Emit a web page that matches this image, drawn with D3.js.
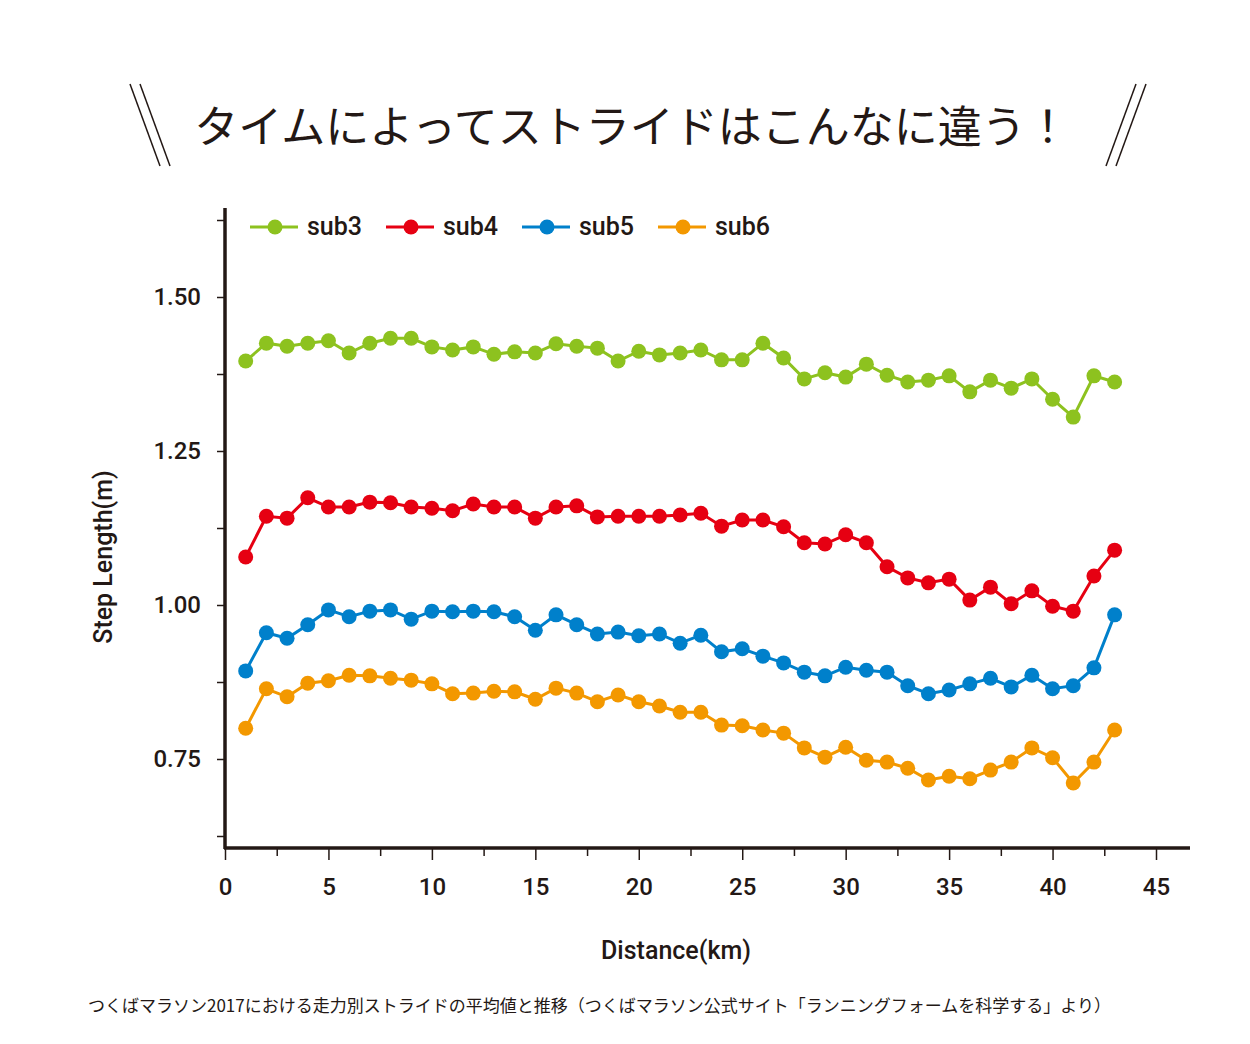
<!DOCTYPE html>
<html><head><meta charset="utf-8">
<script src="https://cdn.jsdelivr.net/npm/d3@7/dist/d3.min.js"></script>
<style>body{margin:0;background:#fff}</style></head>
<body><svg id="c" width="1250" height="1044"></svg>
<script>
const distances = d3.range(1, 44);
const sub3 = [1.396,1.425,1.420,1.425,1.429,1.409,1.425,1.433,1.433,1.419,1.414,1.419,1.407,1.411,1.409,1.424,1.420,1.417,1.396,1.412,1.406,1.409,1.414,1.398,1.398,1.425,1.401,1.367,1.377,1.370,1.391,1.373,1.362,1.365,1.372,1.346,1.365,1.352,1.367,1.334,1.305,1.372,1.362];
const sub4 = [1.078,1.144,1.141,1.174,1.159,1.159,1.167,1.166,1.159,1.157,1.153,1.164,1.159,1.159,1.141,1.159,1.161,1.143,1.144,1.144,1.144,1.146,1.149,1.128,1.138,1.138,1.127,1.101,1.099,1.114,1.101,1.062,1.044,1.036,1.042,1.008,1.029,1.002,1.023,0.998,0.990,1.047,1.089];
const sub5 = [0.893,0.955,0.946,0.968,0.992,0.981,0.990,0.992,0.977,0.990,0.989,0.990,0.989,0.981,0.959,0.984,0.968,0.953,0.956,0.950,0.953,0.938,0.951,0.924,0.929,0.917,0.906,0.891,0.885,0.899,0.894,0.891,0.869,0.856,0.862,0.872,0.881,0.867,0.886,0.864,0.869,0.898,0.984];
const sub6 = [0.800,0.864,0.851,0.873,0.877,0.886,0.885,0.881,0.878,0.872,0.856,0.857,0.860,0.859,0.847,0.865,0.857,0.843,0.854,0.843,0.836,0.826,0.826,0.805,0.804,0.797,0.792,0.768,0.753,0.769,0.748,0.745,0.735,0.716,0.722,0.718,0.732,0.745,0.768,0.752,0.711,0.745,0.797];
const seriesNames = ["sub3","sub4","sub5","sub6"];
const seriesColors = ["#8dc21f","#e60012","#0080cb","#f39800"];
const yTickLabels = ["0.75","1.00","1.25","1.50"];
const xTickLabels = ["0","5","10","15","20","25","30","35","40","45"];
const allSeries = [sub3, sub4, sub5, sub6];

const svg = d3.select("#c");
const F = "Roboto, 'Noto Sans', sans-serif";
const JP = "'Noto Sans CJK JP', sans-serif";
const ink = "#231815";

const x = d3.scaleLinear().domain([0,45]).range([225,1156]);
const y = d3.scaleLinear().domain([0.75,1.5]).range([759,297]);

// title
svg.append("text").attr("x",632).attr("y",143).attr("text-anchor","middle")
  .attr("font-family",JP).attr("font-size",44).attr("fill",ink).text("タイムによってストライドはこんなに違う！");
[[130,84,160,166],[140,84,170,166],[1146,84,1116,166],[1136,84,1106,166]].forEach(l=>{
  svg.append("line").attr("x1",l[0]).attr("y1",l[1]).attr("x2",l[2]).attr("y2",l[3]).attr("stroke",ink).attr("stroke-width",1.5);
});

// axes
const gy = svg.append("g").attr("transform","translate(225,0)")
  .call(d3.axisLeft(y).tickValues(d3.range(0.625,1.626,0.125)).tickSize(8).tickFormat(d=>{
    const s=d.toFixed(2); return yTickLabels.includes(s)?s:"";}));
gy.select(".domain").remove();
gy.selectAll(".tick line").attr("stroke",ink).attr("stroke-width",1.5);
gy.selectAll(".tick text").attr("font-family",F).attr("font-size",24).attr("fill",ink).attr("x",-24).attr("font-weight",500);
const gx = svg.append("g").attr("transform","translate(0,848)")
  .call(d3.axisBottom(x).tickValues(d3.range(0,46,2.5)).tickSize(12).tickFormat(d=>{
    const s=String(d); return xTickLabels.includes(s)?s:"";}));
gx.select(".domain").remove();
gx.selectAll(".tick line").attr("stroke",ink).attr("stroke-width",1.5).attr("y2",d=>d%5===0?12:8);
gx.selectAll(".tick text").attr("font-family",F).attr("font-size",24).attr("fill",ink).attr("y",30).attr("font-weight",500);
svg.append("line").attr("x1",225).attr("x2",225).attr("y1",208).attr("y2",849).attr("stroke",ink).attr("stroke-width",3.5);
svg.append("line").attr("x1",224).attr("x2",1190).attr("y1",848).attr("y2",848).attr("stroke",ink).attr("stroke-width",3.5);

// axis titles
svg.append("text").attr("transform","translate(112,557) rotate(-90)").attr("text-anchor","middle")
  .attr("font-family",F).attr("font-weight",500).attr("font-size",25).attr("fill",ink).text("Step Length(m)");
svg.append("text").attr("x",676).attr("y",959).attr("text-anchor","middle")
  .attr("font-family",F).attr("font-weight",500).attr("font-size",25).attr("fill",ink).text("Distance(km)");

// series
const line = d3.line().x((d,i)=>x(distances[i])).y(d=>y(d));
allSeries.forEach((s,k)=>{
  const g = svg.append("g");
  g.append("path").attr("d",line(s)).attr("fill","none").attr("stroke",seriesColors[k]).attr("stroke-width",3);
  g.selectAll("circle").data(s).join("circle").attr("cx",(d,i)=>x(distances[i])).attr("cy",d=>y(d)).attr("r",7.5).attr("fill",seriesColors[k]);
});

// legend
const lx=[250,386,522,658];
seriesNames.forEach((n,k)=>{
  svg.append("line").attr("x1",lx[k]).attr("x2",lx[k]+48).attr("y1",227).attr("y2",227).attr("stroke",seriesColors[k]).attr("stroke-width",3);
  svg.append("circle").attr("cx",lx[k]+25).attr("cy",227).attr("r",7.5).attr("fill",seriesColors[k]);
  svg.append("text").attr("x",lx[k]+57).attr("y",235).attr("font-family",F).attr("font-weight",500).attr("font-size",25).attr("fill",ink).text(n);
});

// footnote
svg.append("text").attr("x",88).attr("y",1012).attr("font-family",JP).attr("font-size",17).attr("fill",ink)
  .text("つくばマラソン2017における走力別ストライドの平均値と推移（つくばマラソン公式サイト「ランニングフォームを科学する」より）");
</script></body></html>
